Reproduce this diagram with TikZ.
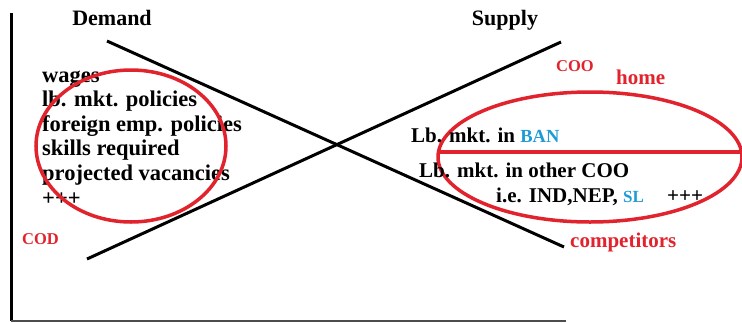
\documentclass[tikz,border=0pt]{standalone}
\usepackage{fontspec}
\setmainfont{Liberation Serif}
\definecolor{mred}{RGB}{225,35,45}
\definecolor{mblue}{RGB}{30,155,215}
\begin{document}
\begin{tikzpicture}[x=1pt,y=-1pt,
    curve/.style ={line width=3pt, black},
    ring/.style ={line width=3.5pt, mred},
    head/.style ={anchor=base, inner sep=0pt, font=\bfseries\fontsize{22}{25}\selectfont},
    item/.style ={anchor=base west, inner sep=0pt, font=\bfseries\fontsize{22.5}{25}\selectfont},
    line/.style ={anchor=base west, inner sep=0pt, font=\bfseries\fontsize{21}{25}\selectfont},
    tag/.style ={anchor=base west, inner sep=0pt, text=mred, font=\bfseries\fontsize{16.5}{20}\selectfont},
    word/.style ={anchor=base west, inner sep=0pt, text=mred, font=\bfseries\fontsize{21}{24}\selectfont}]
   \useasboundingbox (0,0) rectangle (742,322);
   % axes
   \coordinate (top) at (11,13);
   \coordinate (origin) at (11,321);
   \coordinate (xend) at (566,321);
   \draw[curve] (top) -- (origin);
   \draw[black!70, line width=1.5pt] (origin) -- (xend);
   % demand and supply
   \coordinate (D1) at (107,41);
   \coordinate (D2) at (564,247);
   \coordinate (S1) at (87,259);
   \coordinate (S2) at (561,42);
   \draw[curve] (D1) -- (D2);
   \draw[curve] (S1) -- (S2);
   \node[head] (demand) at (112,25) {Demand};
   \node[head] (supply) at (505,25) {Supply};
   % country of destination
   \foreach \t [count=\i from 0] in {wages, lb. mkt. policies, foreign emp. policies,
       skills required, projected vacancies, +++}
     \node[item] (cod\i) at (42,82+24.6*\i) {\t};
   \draw[ring] (131,146) ellipse (95pt and 76pt);
   \node[tag] (cod) at (22,244) {COD};
   % countries of origin
   \draw[ring] (590,157) ellipse (152pt and 65pt);
   \coordinate (split) at (438,152);
   \coordinate (edge) at (742,152);
   \draw[ring] (split) -- (edge);
   \node[tag] (coo) at (556,71) {COO};
   \node[word] (home) at (616,84) {home};
   \node[word] (comp) at (570,247) {competitors};
   \node[line] (ban) at (411,142) {Lb. mkt. in \textcolor{mblue}{\fontsize{18.5}{20}\selectfont BAN}};
   \node[line] (other) at (419,177) {Lb. mkt. in other COO};
   \node[line] (ie) at (496,202) {i.e. IND,NEP, \textcolor{mblue}{\fontsize{17}{20}\selectfont SL}\hspace{1.1em}+++};
\end{tikzpicture}
\end{document}
